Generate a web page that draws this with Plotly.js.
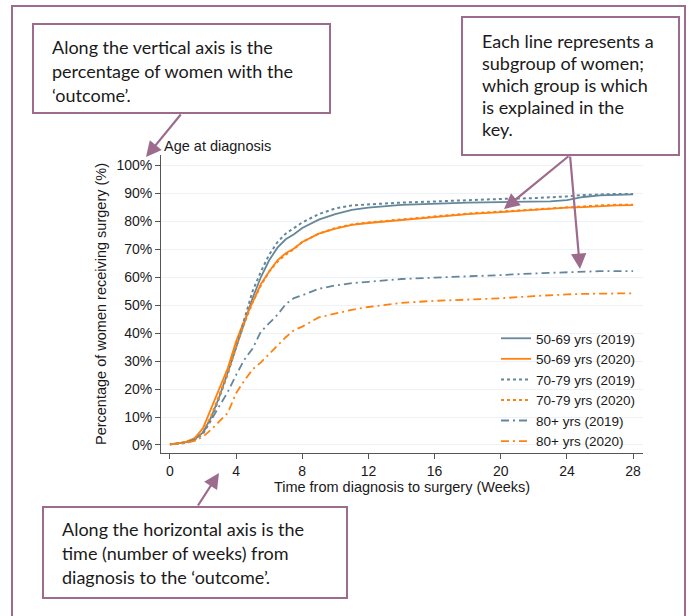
<!DOCTYPE html>
<html>
<head>
<meta charset="utf-8">
<script src="https://cdn.plot.ly/plotly-3.0.1.min.js"></script>
<style>
html,body{margin:0;padding:0;background:#fff;}
#chart{width:691px;height:616px;}
</style>
</head>
<body>
<div id="chart"></div>
<script>
// ---- Data ----
const weeks = [0, 0.5, 1, 1.5, 2, 2.5, 3, 3.5, 4, 4.5, 5, 5.5, 6, 6.5, 7, 7.5, 8, 9, 10, 11, 12, 14, 16, 18, 20, 22, 23, 24, 25, 26, 27, 28];

const age5069_2019 = [0.2, 0.5, 1, 2, 4.5, 10, 17.5, 26, 35, 44, 52.5, 60, 66, 70.5, 73.5, 75.3, 77.5, 80.5, 82.5, 84, 84.8, 85.8, 86.3, 86.6, 86.8, 86.9, 87, 87.5, 88.6, 89.2, 89.4, 89.5];
const age5069_2020 = [0.3, 0.6, 1.2, 2.5, 6, 13, 20, 27.5, 37, 44.5, 51, 57.5, 62, 66, 68.5, 70.2, 72.5, 75.5, 77.3, 78.6, 79.3, 80.4, 81.6, 82.5, 83.2, 84, 84.5, 84.8, 85, 85.4, 85.6, 85.7];
const age7079_2019 = [0.2, 0.4, 0.8, 1.8, 4, 9, 17, 25.5, 35, 45, 55, 62, 68, 72.5, 75.5, 77.5, 79.5, 82.5, 84.5, 85.6, 86, 86.6, 87, 87.5, 87.9, 88.2, 88.4, 88.8, 89.3, 89.6, 89.7, 89.7];
const age7079_2020 = [0.3, 0.5, 1, 2, 4.5, 10.5, 18, 26, 35, 43.5, 51, 57, 62, 65.5, 68, 70, 72.5, 75.5, 77.5, 78.8, 79.5, 80.6, 81.8, 82.7, 83.4, 84.2, 84.6, 85, 85.3, 85.6, 85.8, 85.8];
const age80_2019 = [0.3, 0.5, 1, 2, 4.5, 9, 14, 19, 25, 30.5, 34.5, 40.5, 43.5, 46.5, 50.3, 52.5, 53.5, 55.8, 57, 57.8, 58.3, 59.3, 59.8, 60.2, 60.7, 61.3, 61.5, 61.8, 62, 62.1, 62.1, 62.1];
const age80_2020 = [0.3, 0.4, 0.8, 1.5, 3, 5.5, 8.5, 11.5, 18.5, 23, 27, 29.5, 32.5, 35.5, 38.5, 41, 42.3, 45.6, 47, 48.3, 49.3, 50.8, 51.5, 52, 52.4, 53.2, 53.6, 53.8, 54, 54.1, 54.2, 54.2];

const seriesNames = ["50-69 yrs (2019)", "50-69 yrs (2020)", "70-79 yrs (2019)", "70-79 yrs (2020)", "80+ yrs (2019)", "80+ yrs (2020)"];
const seriesValues = [age5069_2019, age5069_2020, age7079_2019, age7079_2020, age80_2019, age80_2020];

const xTicks = [0, 4, 8, 12, 16, 20, 24, 28];
const yTicks = [0, 10, 20, 30, 40, 50, 60, 70, 80, 90, 100];
const yTickLabels = ["0%", "10%", "20%", "30%", "40%", "50%", "60%", "70%", "80%", "90%", "100%"];

const legendTitle = "Age at diagnosis";
const xTitle = "Time from diagnosis to surgery (Weeks)";
const yTitle = "Percentage of women receiving surgery (%)";

const box1Lines = ["Along the vertical axis is the", "percentage of women with the", "\u2018outcome\u2019."];
const box2Lines = ["Each line represents a", "subgroup of women;", "which group is which", "is explained in the", "key."];
const box3Lines = ["Along the horizontal axis is the", "time (number of weeks) from", "diagnosis to the \u2018outcome\u2019."];

// ---- Styles ----
const BLUE = "#658799";
const ORANGE = "#ff8210";
const MAUVE = "#9d6b8c";
const TXT = "#1a1a1a";
const colors = [BLUE, ORANGE, BLUE, ORANGE, BLUE, ORANGE];
const dashes = ["solid", "solid", "dot", "dot", "8px,4px,2px,4px", "8px,4px,2px,4px"];
const widths = [1.8, 1.8, 2, 2, 1.8, 1.8];

const traces = seriesValues.map((vals, i) => ({
  type: "scatter",
  mode: "lines",
  x: weeks,
  y: vals,
  name: seriesNames[i],
  line: {color: colors[i], dash: dashes[i], width: widths[i]},
  hoverinfo: "skip"
}));

// pixel -> paper helpers
const W = 691, H = 616;
const L = 161, R = 643, T = 155, B = 453;
const px = x => (x - L) / (R - L);
const py = y => (B - y) / (B - T);

const shapes = [];
const annotations = [];

// outer frame
shapes.push({type: "rect", xref: "paper", yref: "paper", x0: px(12), x1: px(685), y0: py(640), y1: py(6),
  line: {color: MAUVE, width: 2}, layer: "below"});

const BOXFONT = {family: "Lato, 'Open Sans', sans-serif", size: 18, color: TXT};
function addBox(x0, y0, x1, y1, lines, tx, ty0, dy) {
  shapes.push({type: "rect", xref: "paper", yref: "paper", x0: px(x0), x1: px(x1), y0: py(y1), y1: py(y0),
    line: {color: MAUVE, width: 2}, fillcolor: "#ffffff", layer: "above"});
  lines.forEach((t, i) => annotations.push({
    xref: "paper", yref: "paper", x: px(tx), y: py(ty0 + i * dy), xanchor: "left", yanchor: "middle",
    text: t, showarrow: false, font: BOXFONT
  }));
}
addBox(33, 24, 330, 113, box1Lines, 50, 47, 24);
addBox(462, 17, 679, 155, box2Lines, 480, 41, 22);
addBox(43, 507, 347, 598, box3Lines, 60, 529, 24);

function addArrow(hx, hy, tx, ty) {
  annotations.push({xref: "paper", yref: "paper", x: px(hx), y: py(hy), ax: tx - hx, ay: ty - hy,
    text: "", showarrow: true, arrowhead: 2, arrowsize: 1.4, arrowwidth: 2.2, arrowcolor: MAUVE});
}
addArrow(146, 157, 182, 113);
addArrow(504, 209, 570, 155);
addArrow(580, 269, 570, 155);
addArrow(219, 473, 197, 507);

// legend title text
annotations.push({xref: "paper", yref: "paper", x: px(162), y: py(146), xanchor: "left", yanchor: "middle",
  text: legendTitle, showarrow: false, font: {family: "Liberation Sans, Arial, sans-serif", size: 14.5, color: TXT}});

const layout = {
  width: W, height: H,
  margin: {l: L, r: W - R, t: T, b: H - B, pad: 0},
  paper_bgcolor: "#ffffff",
  plot_bgcolor: "#ffffff",
  font: {family: "Liberation Sans, Arial, sans-serif", size: 14, color: TXT},
  showlegend: true,
  legend: {x: px(496), y: py(323), xanchor: "left", yanchor: "top", bgcolor: "rgba(0,0,0,0)",
    font: {size: 13.5, color: TXT}, tracegroupgap: 0, itemwidth: 30},
  xaxis: {
    range: [-0.54, 28.6], tickvals: xTicks, ticktext: xTicks.map(String),
    showgrid: false, zeroline: false, showline: true, linecolor: "#555", linewidth: 1,
    ticks: "outside", ticklen: 5, tickcolor: "#555", tickfont: {size: 14, color: TXT},
    title: {text: xTitle, standoff: 0, font: {size: 14.5, color: TXT}},
    fixedrange: true
  },
  yaxis: {
    range: [-2.86, 103.6], tickvals: yTicks, ticktext: yTickLabels,
    showgrid: true, gridcolor: "#eef2f6", gridwidth: 1, zeroline: false,
    showline: true, linecolor: "#555", linewidth: 1,
    ticks: "outside", ticklen: 5, tickcolor: "#555", tickfont: {size: 14, color: TXT},
    title: {text: yTitle, standoff: 6, font: {size: 14.5, color: TXT}},
    fixedrange: true
  },
  shapes: shapes,
  annotations: annotations
};

Plotly.newPlot("chart", traces, layout, {displayModeBar: false, staticPlot: true});
</script>
</body>
</html>
